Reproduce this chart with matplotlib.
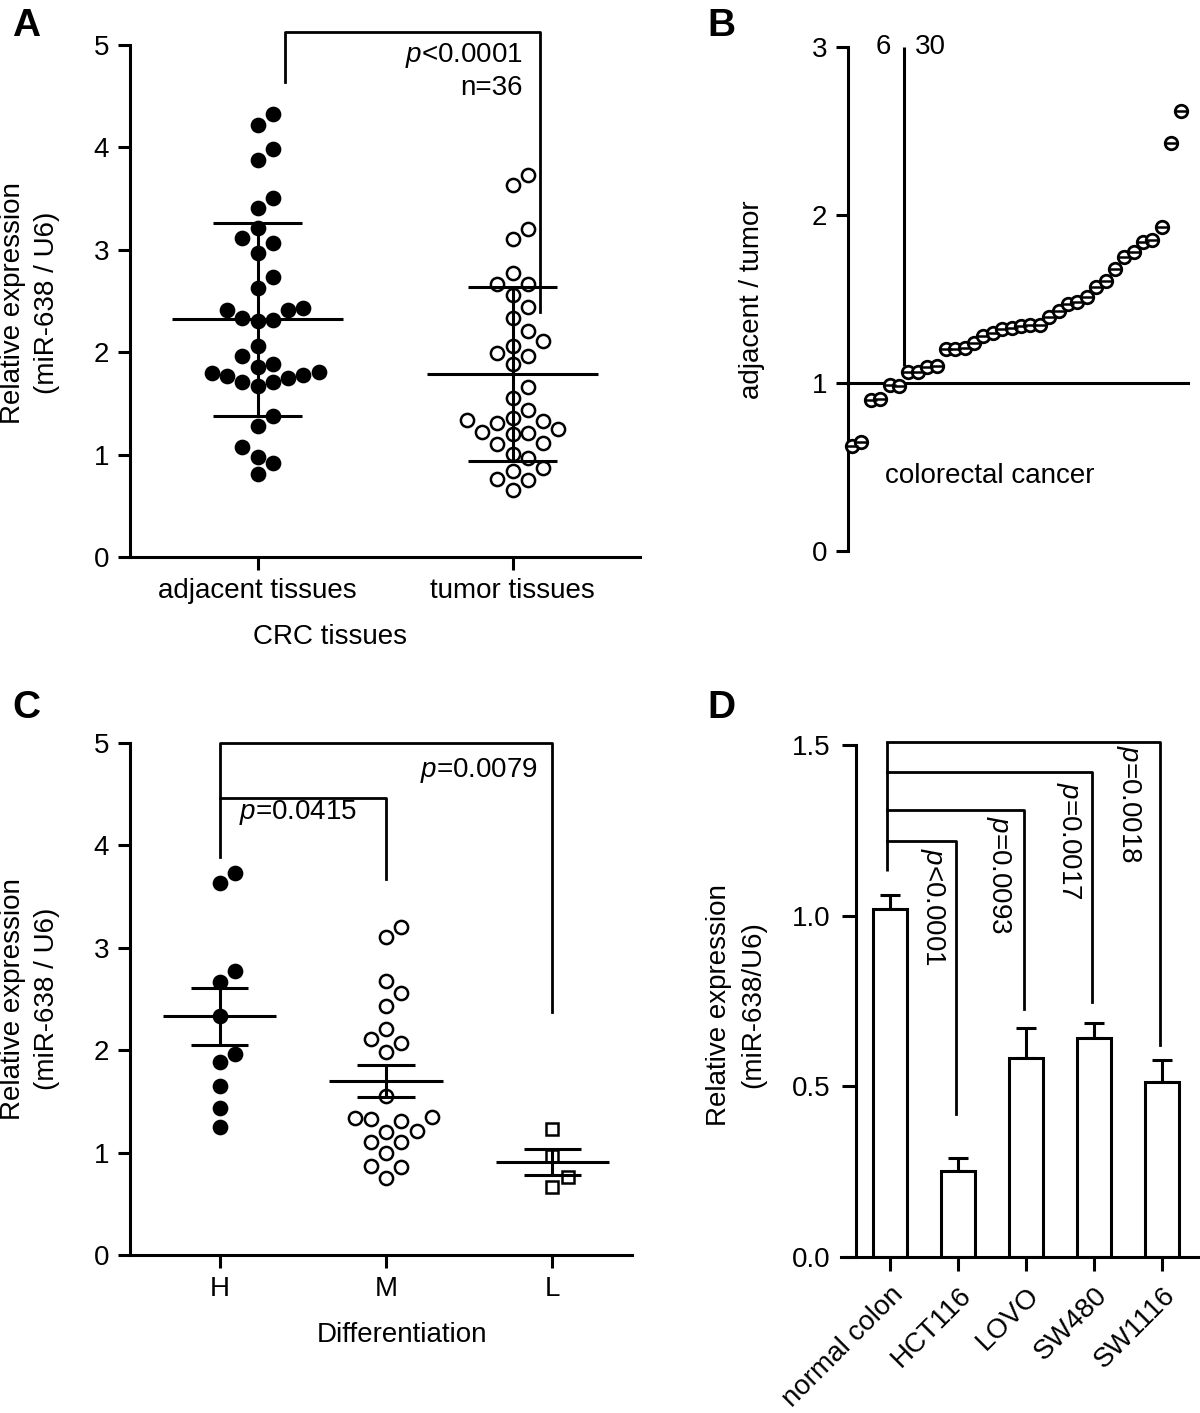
import numpy as np
import matplotlib
matplotlib.use('Agg')
import matplotlib.pyplot as plt

plt.rcParams['font.family'] = ['Liberation Sans', 'DejaVu Sans']
plt.rcParams['mathtext.fontset'] = 'custom'
plt.rcParams['mathtext.it'] = 'Liberation Sans:italic'
plt.rcParams['mathtext.rm'] = 'Liberation Sans'
plt.rcParams['font.size'] = 20
plt.rcParams['axes.linewidth'] = 2.2
plt.rcParams['xtick.major.width'] = 2.2
plt.rcParams['ytick.major.width'] = 2.2
plt.rcParams['xtick.major.size'] = 9
plt.rcParams['ytick.major.size'] = 9
plt.rcParams['xtick.major.pad'] = 6
plt.rcParams['ytick.major.pad'] = 6

# ---- panel A : miR-638 in 36 paired CRC samples
groups_a = ['adjacent tissues', 'tumor tissues']
adjacent = [4.33, 4.22, 3.98, 3.88, 3.51, 3.41, 3.21, 3.12, 3.07, 2.97, 2.73, 2.63,
            2.41, 2.41, 2.43, 2.33, 2.31, 2.30, 2.06, 1.96, 1.86, 1.88, 1.80, 1.78,
            1.75, 1.71, 1.67, 1.71, 1.77, 1.81, 1.38, 1.28, 1.07, 0.98, 0.92, 0.81]
tumor = [3.73, 3.63, 3.20, 3.11, 2.77, 2.67, 2.67, 2.56, 2.44, 2.33, 2.21, 2.11,
         2.06, 1.99, 1.96, 1.88, 1.66, 1.55, 1.44, 1.36, 1.33, 1.25, 1.21, 1.20,
         1.22, 1.31, 1.34, 1.11, 1.10, 1.01, 0.97, 0.87, 0.84, 0.76, 0.75, 0.65]
mean_a = [2.32, 1.79]
sd_a = [0.94, 0.85]

# ---- panel B : adjacent / tumor ratio, sorted
ratio = [0.625, 0.65, 0.90, 0.905, 0.99, 0.98, 1.065, 1.065, 1.095, 1.10, 1.20, 1.20,
         1.21, 1.24, 1.28, 1.30, 1.32, 1.33, 1.34, 1.345, 1.345, 1.39, 1.43, 1.47,
         1.48, 1.51, 1.57, 1.61, 1.68, 1.75, 1.78, 1.84, 1.85, 1.93, 2.43, 2.62]

# ---- panel C : by differentiation
groups_c = ['H', 'M', 'L']
diff_h = [3.73, 3.63, 2.77, 2.67, 2.33, 1.96, 1.88, 1.65, 1.44, 1.25]
diff_m = [3.20, 3.11, 2.68, 2.56, 2.43, 2.21, 2.11, 2.07, 1.98, 1.55, 1.34, 1.31,
          1.33, 1.35, 1.20, 1.21, 1.10, 1.10, 1.00, 0.87, 0.86, 0.75]
diff_l = [1.23, 0.97, 0.76, 0.66]
mean_c = [2.33, 1.70, 0.91]
sem_c = [0.28, 0.16, 0.13]

# ---- panel D : cell lines
cells = ['normal colon', 'HCT116', 'LOVO', 'SW480', 'SW1116']
expr_d = [1.02, 0.253, 0.584, 0.641, 0.514]
err_d = [0.04, 0.037, 0.088, 0.044, 0.064]
pvals_d = [r'$p$<0.0001', r'$p$=0.0093', r'$p$=0.0017', r'$p$=0.0018']


def swarm(values, px_per_unit, min_gap_px):
    # greedy beeswarm (lowest value first): integer column slot for every point
    vals = np.asarray(values)
    order = np.argsort(vals, kind='stable')
    slots = np.zeros(len(vals))
    placed = []
    cands = [0]
    for n in range(1, 12):
        cands += [n, -n]
    for i in order:
        y = vals[i] * px_per_unit
        for c in cands:
            if all(abs(y - yy) >= min_gap_px for cc, yy in placed if cc == c):
                break
        placed.append((c, y))
        slots[i] = c
    return slots


def clean(ax):
    ax.spines['top'].set_visible(False)
    ax.spines['right'].set_visible(False)
    ax.tick_params(direction='out', colors='black')


W, H = 1200, 1413
fig = plt.figure(figsize=(12, 14.13), dpi=100)


def box(l, r, t, b):
    return [l / W, 1 - b / H, (r - l) / W, (b - t) / H]


# ================= A =================
axA = fig.add_axes(box(130, 640, 45, 557))
clean(axA)
for k, (vals, filled) in enumerate([(adjacent, True), (tumor, False)]):
    slots = swarm(vals, 102.4, 16)
    xs = k + slots * 15.3 / 255
    axA.plot(xs, vals, 'o', ms=9.5, mfc='black' if filled else 'white',
             mec='black', mew=1.8, ls='none', zorder=3, clip_on=False)
    axA.hlines(mean_a[k], k - 0.337, k + 0.337, color='black', lw=2.2, zorder=4)
    axA.hlines([mean_a[k] - sd_a[k], mean_a[k] + sd_a[k]], k - 0.173, k + 0.173,
               color='black', lw=2.2, zorder=4)
    axA.vlines(k, mean_a[k] - sd_a[k], mean_a[k] + sd_a[k], color='black', lw=2.2, zorder=4)
axA.set_xlim(-0.5, 1.5)
axA.set_ylim(0, 5)
axA.set_yticks([0, 1, 2, 3, 4, 5])
axA.set_xticks([0, 1])
axA.set_xticklabels(groups_a)
axA.plot([0.106, 0.106, 1.106, 1.106], [4.64, 5.13, 5.13, 2.39], color='black',
         lw=2, clip_on=False)
axA.text(1.039, 4.90, r'$p$<0.0001', ha='right', va='center')
axA.text(1.039, 4.58, 'n=36', ha='right', va='center')
fig.text(330 / W, 1 - 637 / H, 'CRC tissues', ha='center', va='center')
fig.text(30 / W, 1 - 303 / H, 'Relative expression\n(miR-638 / U6)', rotation=90,
         ha='center', va='center', multialignment='center', linespacing=1.4)

# ================= B =================
axB = fig.add_axes(box(848, 1190, 47, 551))
clean(axB)
axB.spines['bottom'].set_visible(False)
idx = np.arange(1, len(ratio) + 1)
axB.plot(idx, ratio, 'o', ms=9, mfc='white', mec='black', mew=2, ls='none',
         zorder=3, clip_on=False)
axB.plot(idx, ratio, '_', ms=9, mec='black', mew=1.8, ls='none', zorder=4, clip_on=False)
axB.set_xlim(0.57, 37.0)
axB.set_ylim(0, 3)
axB.set_yticks([0, 1, 2, 3])
axB.set_xticks([])
axB.axhline(1, color='black', lw=2.2)
axB.vlines(6.5, 1.1, 3.0, color='black', lw=2.2)
axB.text(4.3, 3.0, '6', ha='center', va='center')
axB.text(9.3, 3.0, '30', ha='center', va='center')
axB.text(15.7, 0.446, 'colorectal cancer', ha='center', va='center')
fig.text(752 / W, 1 - 300 / H, 'adjacent / tumor', rotation=90, ha='center', va='center')

# ================= C =================
axC = fig.add_axes(box(130, 632, 743, 1255))
clean(axC)
styles = [('o', 'black', 9.5), ('o', 'white', 9.5), ('s', 'white', 8)]
for k, vals in enumerate([diff_h, diff_m, diff_l]):
    slots = swarm(vals, 102.4, 16)
    xs = k + slots * 15.3 / 166
    m, fc, ms = styles[k]
    axC.plot(xs, vals, m, ms=ms, mfc=fc, mec='black', mew=1.8, ls='none', zorder=3)
    axC.hlines(mean_c[k], k - 0.34, k + 0.34, color='black', lw=2.2, zorder=4)
    axC.hlines([mean_c[k] - sem_c[k], mean_c[k] + sem_c[k]], k - 0.172, k + 0.172,
               color='black', lw=2.2, zorder=4)
    axC.vlines(k, mean_c[k] - sem_c[k], mean_c[k] + sem_c[k], color='black', lw=2.2, zorder=4)
axC.set_xlim(-0.54, 2.48)
axC.set_ylim(0, 5)
axC.set_yticks([0, 1, 2, 3, 4, 5])
axC.set_xticks([0, 1, 2])
axC.set_xticklabels(groups_c)
axC.plot([0, 0, 1, 1], [3.89, 4.46, 4.46, 3.67], color='black', lw=2, clip_on=False)
axC.plot([0, 0, 2, 2], [4.46, 5.0, 5.0, 2.37], color='black', lw=2, clip_on=False)
axC.text(0.47, 4.32, r'$p$=0.0415', ha='center', va='center')
axC.text(1.56, 4.73, r'$p$=0.0079', ha='center', va='center')
fig.text(402 / W, 1 - 1335 / H, 'Differentiation', ha='center', va='center')
fig.text(30 / W, 1 - 999 / H, 'Relative expression\n(miR-638 / U6)', rotation=90,
         ha='center', va='center', multialignment='center', linespacing=1.4)

# ================= D =================
axD = fig.add_axes(box(841, 1199, 745, 1257))
clean(axD)
axD.spines['left'].set_position(('data', -0.5))
xd = np.arange(len(cells))
axD.bar(xd, expr_d, width=0.5, color='white', edgecolor='black', lw=2.2, zorder=2)
axD.errorbar(xd, expr_d, yerr=[np.zeros(len(err_d)), err_d], fmt='none',
             ecolor='black', elinewidth=2.2, capsize=7, capthick=2.2, zorder=1)
axD.set_xlim(-0.72, 4.54)
axD.set_ylim(0, 1.5)
axD.set_yticks([0, 0.5, 1.0, 1.5])
axD.set_yticklabels(['0.0', '0.5', '1.0', '1.5'])
axD.set_xticks(xd)
axD.set_xticklabels(cells, rotation=45, ha='right', va='top', rotation_mode='anchor')
axD.tick_params(length=10, pad=8)
tops = [1.218, 1.309, 1.42, 1.51]
ends = [0.42, 0.727, 0.746, 0.622]
axD.vlines(-0.04, 1.13, 1.51, color='black', lw=2, clip_on=False)
for j in range(4):
    axD.plot([-0.04, j + 0.97, j + 0.97], [tops[j], tops[j], ends[j]], color='black',
             lw=2, clip_on=False)
text_x = [0.62, 1.59, 2.62, 3.51]
text_y = [1.026, 1.12, 1.218, 1.328]
for j in range(4):
    axD.text(text_x[j], text_y[j], pvals_d[j], rotation=-90, ha='center', va='center')
fig.text(736 / W, 1 - 1005 / H, 'Relative expression\n(miR-638/U6)', rotation=90,
         ha='center', va='center', multialignment='center', linespacing=1.4)

# panel letters
for letter, (px, py) in zip('ABCD', [(12, 26), (707, 26), (12, 708), (707, 708)]):
    fig.text(px / W, 1 - py / H, letter, fontsize=28, fontweight='bold', ha='left', va='center')

fig.savefig('out.png', dpi=100)
